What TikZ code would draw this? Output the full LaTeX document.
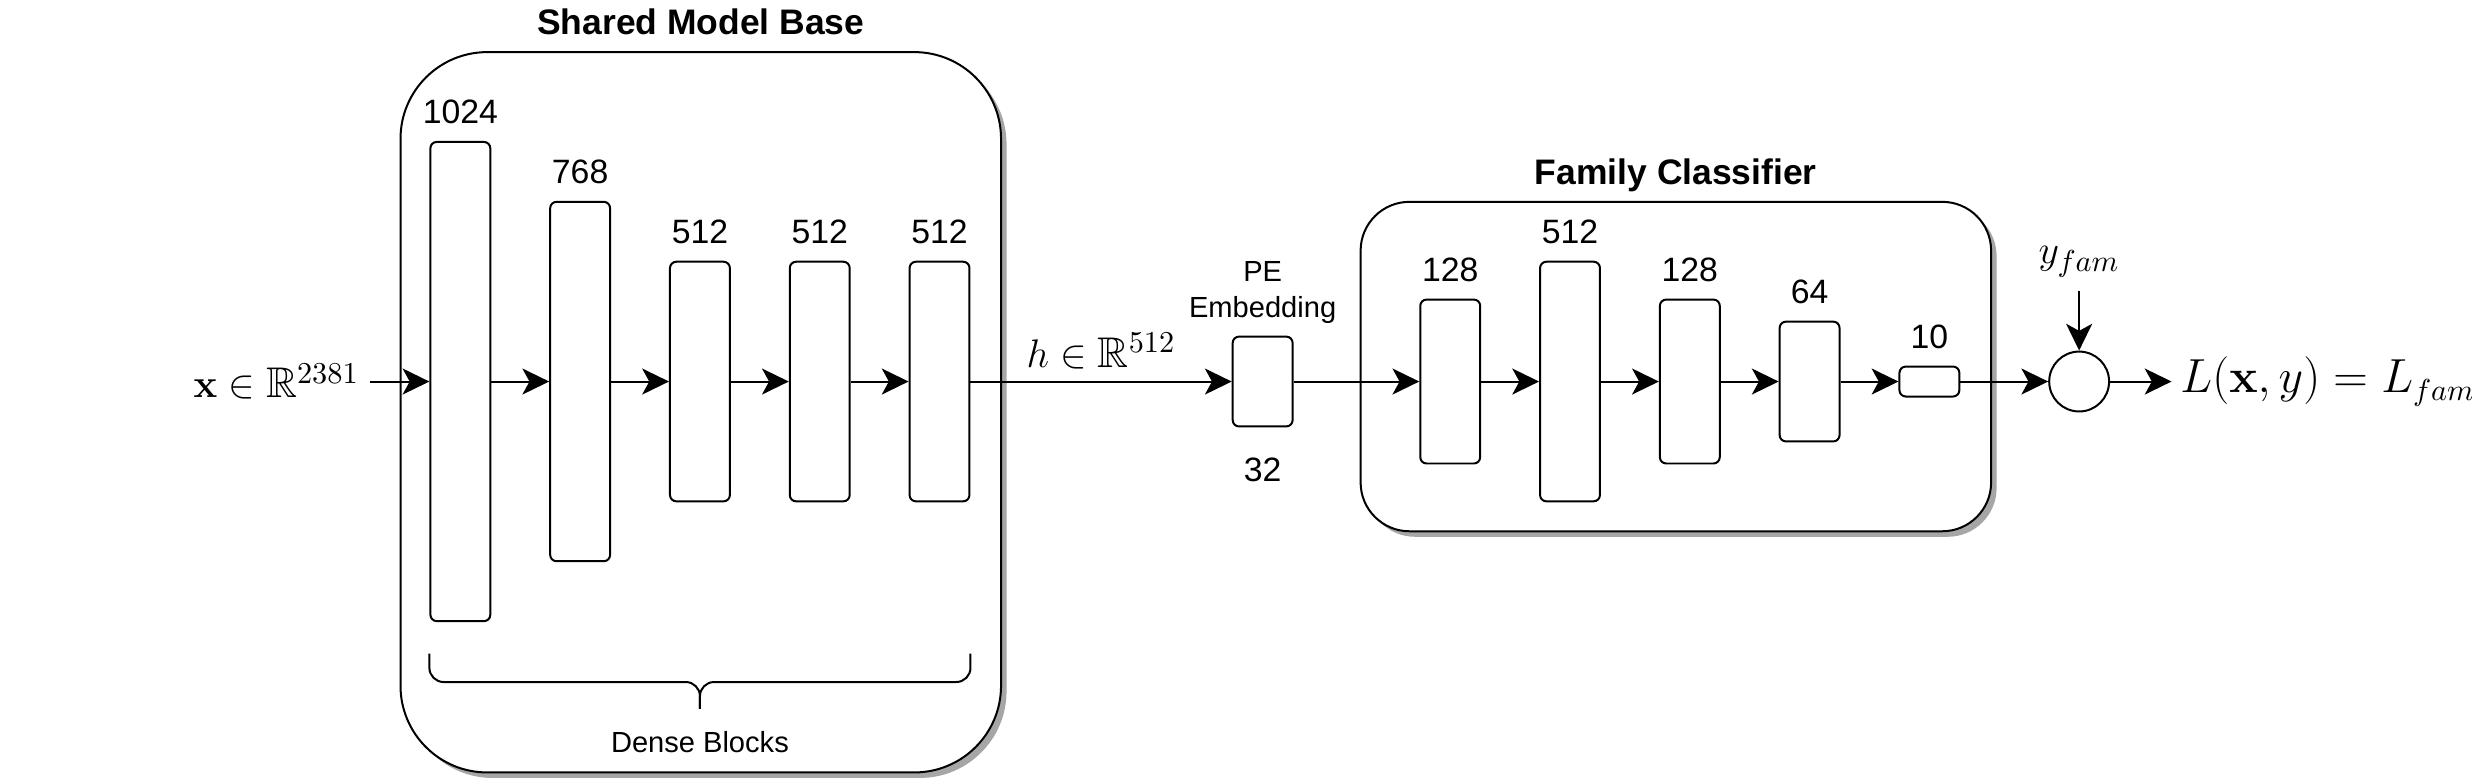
\documentclass[tikz,border=0pt]{standalone}
\usepackage{amsmath,amssymb}
\usepackage[no-math]{fontspec}
\setmainfont{Liberation Sans}
\usetikzlibrary{arrows.meta,positioning,shadows,calc}

\begin{document}
\begin{tikzpicture}
      [x=0.02cm, y=-0.02cm, line width=0.72pt,
      >={Stealth[length=0.34cm,width=0.33cm,inset=0.09cm]},
      neurons/.style={rectangle, draw, rounded corners=0.08cm, minimum width=0.76cm,
        inner sep=0pt, on grid},
      panel/.style={rectangle, draw, fill=white, rounded corners=#1, inner sep=0pt,
        drop shadow={shadow xshift=0.07cm, shadow yshift=-0.07cm, fill=black!35, opacity=1}},
      heading/.style={font=\fontsize{12.8}{15}\selectfont\bfseries, anchor=base, inner sep=0pt},
      dims/.style={font=\fontsize{12.2}{14}\selectfont, inner sep=0pt},
      note/.style={font=\fontsize{10.5}{13}\selectfont, align=center, inner sep=0pt},
      formula/.style={font=\fontsize{15.5}{18}\selectfont, inner sep=0.12cm},
      junction/.style={circle, draw, minimum size=0.76cm, inner sep=0pt, on grid}]

      \useasboundingbox (0,0) rectangle (1568,496.66);

      % the two groups
      \node [panel=1.1cm, minimum width=7.62cm, minimum height=9.14cm] (base) at (444.5,261.5) {};
      \node [heading] (base-title) at ([yshift=0.21cm]base.north) {Shared Model Base};
      \node [panel=0.62cm, minimum width=8cm, minimum height=4.18cm] (fam) at (1063,232.5) {};
      \node [heading] (fam-title) at ([yshift=0.21cm]fam.north) {Family Classifier};

      % layers
      \node [neurons, minimum height=6.08cm] (b1) at (292,242) {};
      \node [neurons, minimum height=4.56cm, right=1.52cm of b1] (b2) {};
      \node [neurons, minimum height=3.04cm, right=1.52cm of b2] (b3) {};
      \node [neurons, minimum height=3.04cm, right=1.52cm of b3] (b4) {};
      \node [neurons, minimum height=3.04cm, right=1.52cm of b4] (b5) {};
      \node [neurons, minimum height=1.14cm, right=4.1cm of b5] (pe) {};
      \node [neurons, minimum height=2.08cm, right=2.38cm of pe] (f1) {};
      \node [neurons, minimum height=3.04cm, right=1.52cm of f1] (f2) {};
      \node [neurons, minimum height=2.08cm, right=1.52cm of f2] (f3) {};
      \node [neurons, minimum height=1.52cm, right=1.52cm of f3] (f4) {};
      \node [neurons, minimum height=0.38cm, right=1.52cm of f4] (f5) {};
      \node [junction, right=1.9cm of f5] (sum) {};

      \foreach \n/\d in {b1/1024, b2/768, b3/512, b4/512, b5/512,
                         f1/128, f2/512, f3/128, f4/64, f5/10}
        \node [dims, anchor=base] (\n-dim) at ([yshift=0.22cm]\n.north) {\d};

      \node [note, above=0.14cm of pe] (pe-name) {PE\\Embedding};
      \node [dims, below=0.38cm of pe] (pe-dim) {32};

      % inputs and outputs
      \node [formula, left=0.76cm of b1] (in) {$\mathbf{x}\in\mathbb{R}^{2381}$};
      \node [formula, above=0.76cm of sum, inner sep=0.16cm] (yfam) {$y_{fam}$};
      \node [formula, font=\fontsize{16}{19}\selectfont, inner sep=0.1cm,
        right=0.78cm of sum] (loss) {$L(\mathbf{x},y)=L_{fam}$};

      \draw [->] (in) -- (b1);
      \draw [->] (b1) -- (b2);
      \draw [->] (b2) -- (b3);
      \draw [->] (b3) -- (b4);
      \draw [->] (b4) -- (b5);
      \draw [->] (b5) -- node [formula, above, inner sep=0.15cm] (h) {$h\in\mathbb{R}^{512}$} (pe);
      \draw [->] (pe) -- (f1);
      \draw [->] (f1) -- (f2);
      \draw [->] (f2) -- (f3);
      \draw [->] (f3) -- (f4);
      \draw [->] (f4) -- (f5);
      \draw [->] (f5) -- (sum);
      \draw [->] (yfam) -- (sum);
      \draw [->] (sum) -- (loss);

      % brace under the dense blocks
      \coordinate (brl) at ([yshift=-0.4cm]b1.south west);
      \coordinate (brr) at (brl -| b5.east);
      \coordinate (brm) at ($(brl)!0.5!(brr)$);
      \draw [rounded corners=0.18cm] (brl) |- ([yshift=-0.36cm]brm) -- ([yshift=-0.7cm]brm);
      \draw [rounded corners=0.18cm] (brr) |- ([yshift=-0.36cm]brm) -- ([yshift=-0.7cm]brm);
      \node [note, anchor=base] (dense) at ([yshift=-1.26cm]brm) {Dense Blocks};
    \end{tikzpicture}
\end{document}
